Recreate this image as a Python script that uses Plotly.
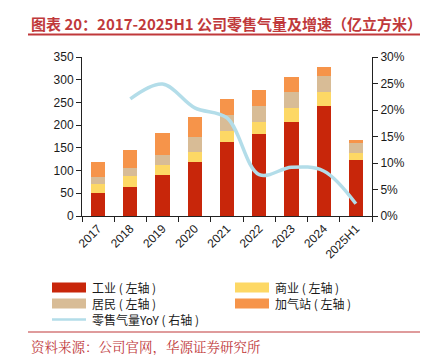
import plotly.graph_objects as go

categories = ["2017", "2018", "2019", "2020", "2021", "2022", "2023", "2024", "2025H1"]
industrial = [51, 64, 90, 119, 163, 180, 208, 243, 123]
commercial = [20, 23, 22, 22, 24, 26, 30, 29, 16]
residential = [15, 18, 23, 32, 36, 36, 36, 37, 21]
gas_station = [33, 41, 47, 45, 35, 36, 31, 20, 8]
yoy_categories = ["2018", "2019", "2020", "2021", "2022", "2023", "2024", "2025H1"]
yoy = [22.1, 24.9, 20.4, 18.5, 7.8, 9.2, 8.5, 2.3]

series_names = ["工业 ( 左轴 )", "商业 ( 左轴 )", "居民 ( 左轴 )", "加气站 ( 左轴 )", "零售气量YoY ( 右轴 )"]
colors = ["#c8260a", "#fdd865", "#d8bc96", "#f6944a", "#b3dde9"]

W, H = 428, 355
L, R, T, B = 74, 364, 49, 208  # plot area in pixels


def px(x):
    return (x - L) / (R - L)


def py(y):
    return (B - y) / (B - T)


fig = go.Figure()
for vals, name, col in zip([industrial, commercial, residential, gas_station], series_names[:4], colors[:4]):
    fig.add_trace(go.Bar(x=categories, y=vals, name=name, marker=dict(color=col, line=dict(width=0)),
                         showlegend=False))
fig.add_trace(go.Scatter(x=yoy_categories, y=yoy, name=series_names[4], yaxis="y2", mode="lines",
                         line=dict(color=colors[4], width=3.5, shape="spline", smoothing=1.0),
                         showlegend=False))

tickfont = dict(family="Liberation Sans, Arial, sans-serif", size=12, color="#1a1a1a")
red = "#c0393b"

fig.update_layout(
    width=W, height=H,
    margin=dict(l=L, r=W - R, t=T, b=H - B),
    paper_bgcolor="white", plot_bgcolor="white",
    barmode="stack", bargap=0.56,
    xaxis=dict(type="category", range=[-0.5, 8.5], tickson="boundaries", ticks="outside", ticklen=5,
               tickcolor="#222", showline=True, linecolor="#222", linewidth=1, showgrid=False,
               tickangle=-45, tickfont=tickfont, zeroline=False),
    yaxis=dict(range=[0, 350], dtick=50, ticks="outside", ticklen=5, tickcolor="#222", showline=True,
               linecolor="#222", linewidth=1, showgrid=False, zeroline=False, tickfont=tickfont),
    yaxis2=dict(range=[0, 30], dtick=5, ticksuffix="%", overlaying="y", side="right", ticks="outside",
                ticklen=5, tickcolor="#222", showline=True, linecolor="#222", linewidth=1,
                showgrid=False, zeroline=False, tickfont=tickfont),
    showlegend=False,
)

shapes = []
annotations = []
cjk = "Noto Sans CJK SC, sans-serif"

# title
annotations.append(dict(text="<b>图表 20：2017-2025H1 公司零售气量及增速（亿立方米）</b>", x=px(21), y=py(15),
                        xref="paper", yref="paper", xanchor="left", yanchor="middle", showarrow=False,
                        font=dict(family=cjk, size=15, color=red)))
shapes.append(dict(type="line", xref="paper", yref="paper", x0=px(20), x1=px(419), y0=py(26.5), y1=py(26.5),
                   line=dict(color=red, width=2)))

# legend
legend_pos = [(44, 279.5), (227, 279.5), (44, 295.5), (227, 295.5), (44, 311.5)]
for i, ((lx, ly), name, col) in enumerate(zip(legend_pos, series_names, colors)):
    if i < 4:
        shapes.append(dict(type="rect", xref="paper", yref="paper", x0=px(lx), x1=px(lx + 34),
                           y0=py(ly - 5), y1=py(ly + 5), line=dict(width=0), fillcolor=col))
    else:
        shapes.append(dict(type="line", xref="paper", yref="paper", x0=px(lx), x1=px(lx + 34),
                           y0=py(ly), y1=py(ly), line=dict(color=col, width=2.5)))
    annotations.append(dict(text=name, x=px(lx + 38), y=py(ly), xref="paper", yref="paper", xanchor="left",
                            yanchor="middle", showarrow=False, font=dict(family=cjk, size=12, color="#1a1a1a")))

# source
shapes.append(dict(type="line", xref="paper", yref="paper", x0=px(20), x1=px(419), y0=py(324), y1=py(324),
                   line=dict(color=red, width=1.2)))
annotations.append(dict(text="资料来源：公司官网，华源证券研究所", x=px(21), y=py(338), xref="paper", yref="paper",
                        xanchor="left", yanchor="middle", showarrow=False,
                        font=dict(family="Noto Serif CJK SC, Noto Sans CJK SC, serif", size=13.5, color=red)))

fig.update_layout(shapes=shapes, annotations=annotations)
fig.write_html("out.html")
